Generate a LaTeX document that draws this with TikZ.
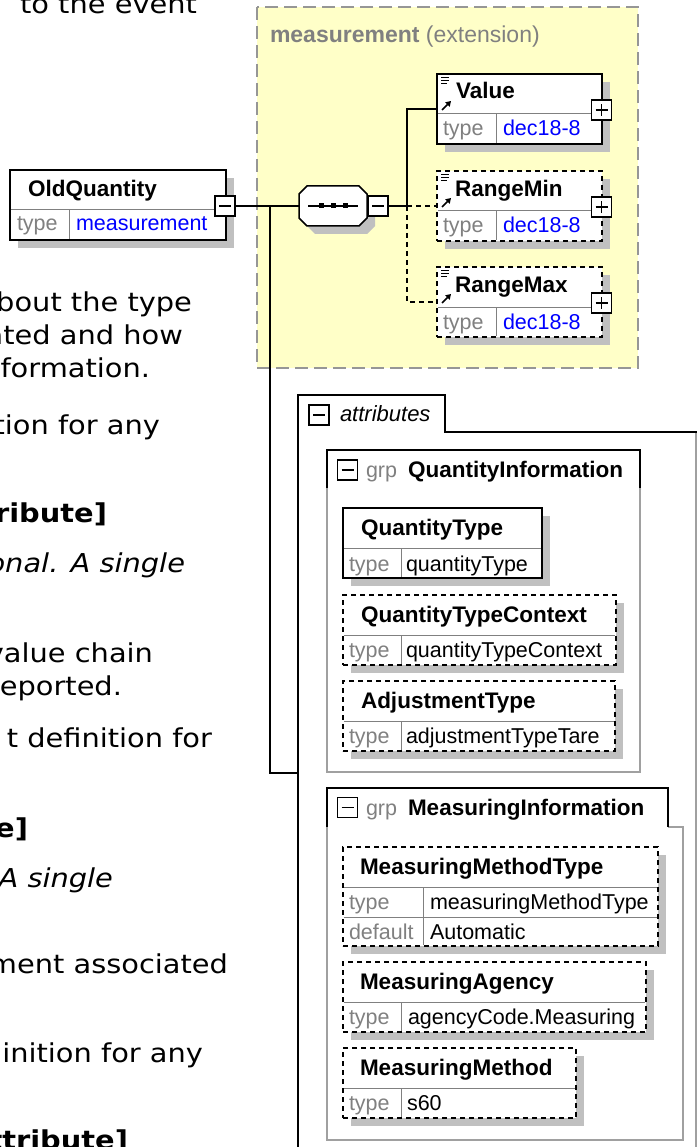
\documentclass[tikz,border=0pt]{standalone}
\usepackage{fontspec}
\setmainfont{Liberation Sans}
\newfontfamily\vfont[FakeStretch=1.11]{DejaVu Sans}
\usetikzlibrary{arrows.meta}
\definecolor{yel}{HTML}{FFFFC8}
\definecolor{shd}{HTML}{C0C0C0}
\definecolor{gtxt}{HTML}{808080}
\definecolor{grpline}{HTML}{A0A0A0}
\definecolor{extline}{HTML}{969696}
\definecolor{blu}{HTML}{0000FF}
\newcommand{\shbox}[6]{%
  \fill[shd] ({#2+8},{#3+8}) rectangle ({#2+#4+8},{#3+#5+8});
  \node[#6, minimum width=#4pt, minimum height=#5pt] (#1) at (#2,#3) {};}
\newcommand{\rowdiv}[5]{%
  \draw[divl] ({#1+0.8},{#2+40}) -- ({#1+#3-0.8},{#2+40});
  \draw[divl] (#5,{#2+40}) -- (#5,{#2+#4-0.8});}
\newcommand{\pmbox}[4]{%
  \node[pmb] (#1) at (#2,#3) {};
  \draw[line width=1.3pt] ([xshift=-6pt]#1.center) -- ([xshift=6pt]#1.center);
  \ifnum#4=1 \draw[line width=1.3pt] ([yshift=-6pt]#1.center) -- ([yshift=6pt]#1.center);\fi}
\newcommand{\eicon}[2]{%
  \draw[line width=1pt] ({#1+4},{#2+3.5}) -- ({#1+12},{#2+3.5})
    ({#1+4},{#2+6.5}) -- ({#1+12},{#2+6.5}) ({#1+4},{#2+9.5}) -- ({#1+10},{#2+9.5});
  \draw[line width=1.6pt,-{Triangle[length=5pt,width=6pt]}] ({#1+5},{#2+36}) -- ({#1+14},{#2+27});}
\begin{document}
\begin{tikzpicture}[x=1pt,y=-1pt,
  every node/.style={inner sep=0pt, outer sep=0pt},
  prose/.style={anchor=base east, font=\vfont\fontsize{26}{31}\selectfont},
  prosebf/.style={anchor=base east, font=\vfont\bfseries\fontsize{26}{31}\selectfont},
  proseit/.style={anchor=base east, font=\vfont\itshape\fontsize{26}{31}\selectfont},
  ttl/.style={anchor=base west, font=\bfseries\fontsize{22.5}{26}\selectfont},
  lbl/.style={anchor=base west, font=\fontsize{21.5}{25}\selectfont, text=gtxt},
  val/.style={anchor=base west, font=\fontsize{21.5}{25}\selectfont},
  ebox/.style={draw=black, fill=white, line width=1.5pt, anchor=north west},
  dbox/.style={ebox, dash pattern=on 5pt off 4pt},
  divl/.style={draw=gtxt, line width=1pt},
  conn/.style={draw=black, line width=1.6pt},
  dconn/.style={conn, dash pattern=on 5pt off 4pt},
  pmb/.style={draw=black, fill=white, line width=1.3pt, minimum width=20pt, minimum height=20pt},
  grpl/.style={draw=grpline, line width=1.5pt},
  blk/.style={draw=black, line width=1.5pt}]
\useasboundingbox (0,0) rectangle (697,1147);
\fill[white] (0,0) rectangle (697,1147);

% ---- extension region
\fill[yel] (257,7) rectangle (638,368);
\draw[extline, line width=1.8pt, dash pattern=on 13pt off 6pt] (257,7) rectangle (638,368);
\node[anchor=base west, text=gtxt, font=\fontsize{23}{27}\selectfont] (extlbl) at (270,43) {\textbf{measurement} (extension)};

% ---- attributes and groups
\draw[grpl] (696,432) -- (696,1160);
\draw[blk] (298,1160) -- (298,395) -- (445,395) -- (445,432) -- (696.75,432);
\node[anchor=base west, font=\itshape\fontsize{22}{26}\selectfont] (attrlbl) at (340,421) {attributes};
\pmbox{attrminus}{319}{415}{0}

\fill[white] (327,450) rectangle (640,772);
\draw[grpl] (327,488) -- (327,772) -- (640,772) -- (640,488);
\draw[blk] (327,488) -- (327,450) -- (640,450) -- (640,488);
\pmbox{qiminus}{347.5}{470}{0}
\node[lbl] (qigrp) at (366,477) {grp};
\node[ttl] (qititle) at (408,477) {QuantityInformation};

\draw[grpl] (327,827) -- (327,1140) -- (683,1140) -- (683,827) -- (668,827);
\draw[blk] (327,827) -- (327,788) -- (668,788) -- (668,827);
\pmbox{miminus}{347.5}{807.5}{0}
\node[lbl] (migrp) at (366,815) {grp};
\node[ttl] (mititle) at (408,815) {MeasuringInformation};

% ---- OldQuantity
\shbox{oq}{10}{170}{216}{70}{ebox}
\rowdiv{10}{170}{216}{70}{69}
\node[ttl] (oqt) at (28,197) {OldQuantity};
\node[lbl] (oqk) at (17,231) {type};
\node[val, text=blu] (oqv) at (76,231) {measurement};
\pmbox{oqminus}{225}{206}{0}

% ---- sequence compositor
\node[minimum width=68pt, minimum height=40pt] (seq) at (333,206) {};
\begin{scope}[shift={(8,8)}]
\fill[shd] (307,186) -- (359,186) -- (367,194) -- (367,218) -- (359,226) -- (307,226) -- (299,218) -- (299,194) -- cycle;
\end{scope}
\filldraw[fill=white, draw=black, line width=1.5pt] (307,186) -- (359,186) -- (367,194) -- (367,218) -- (359,226) -- (307,226) -- (299,218) -- (299,194) -- cycle;
\draw[line width=1.2pt] (308,206) -- (358,206);
\fill (318.5,203.5) rectangle (323.5,208.5);
\fill (330.5,203.5) rectangle (335.5,208.5);
\fill (342.5,203.5) rectangle (347.5,208.5);
\pmbox{seqminus}{378}{206}{0}

% ---- Value / RangeMin / RangeMax
\shbox{value}{437}{74}{165}{70}{ebox}
\rowdiv{437}{74}{165}{70}{496}
\eicon{437}{74}
\node[ttl] (valuet) at (456,99) {Value};
\node[lbl] (valuek) at (443,136) {type};
\node[val, text=blu] (valuev) at (503,136) {dec18-8};
\pmbox{valueplus}{601.5}{110}{1}

\shbox{rangemin}{437}{171}{165}{70}{dbox}
\rowdiv{437}{171}{165}{70}{496}
\eicon{437}{171}
\node[ttl] (rmint) at (455,197) {RangeMin};
\node[lbl] (rmink) at (443,233) {type};
\node[val, text=blu] (rminv) at (503,233) {dec18-8};
\pmbox{rminplus}{601.5}{207}{1}

\shbox{rangemax}{437}{267}{165}{70}{dbox}
\rowdiv{437}{267}{165}{70}{496}
\eicon{437}{267}
\node[ttl] (rmaxt) at (455,293) {RangeMax};
\node[lbl] (rmaxk) at (443,329) {type};
\node[val, text=blu] (rmaxv) at (503,329) {dec18-8};
\pmbox{rmaxplus}{601.5}{303}{1}

% ---- connectors
\coordinate (j1) at (270,206);
\coordinate (bus) at (407,206);
\coordinate (attin) at (298,773);
\draw[conn] (oqminus.east) -- (seq.west);
\draw[conn] (j1) |- (attin);
\draw[conn] (seqminus.east) -- (bus) |- (value.west);
\draw[dconn] (bus) -- (rangemin.west);
\draw[dconn] (bus) |- (rangemax.west);

% ---- QuantityInformation members
\shbox{qt}{343}{508}{199}{70}{ebox}
\rowdiv{343}{508}{199}{70}{401}
\node[ttl] (qtt) at (361,535) {QuantityType};
\node[lbl] (qtk) at (349,571) {type};
\node[val] (qtv) at (406,571) {quantityType};

\shbox{qtc}{343}{595}{273}{70}{dbox}
\rowdiv{343}{595}{273}{70}{401}
\node[ttl] (qtct) at (361,622) {QuantityTypeContext};
\node[lbl] (qtck) at (349,657) {type};
\node[val] (qtcv) at (406,657) {quantityTypeContext};

\shbox{adj}{343}{681}{272}{70}{dbox}
\rowdiv{343}{681}{272}{70}{401}
\node[ttl] (adjt) at (361,708) {AdjustmentType};
\node[lbl] (adjk) at (349,743) {type};
\node[val] (adjv) at (406,743) {adjustmentTypeTare};

% ---- MeasuringInformation members
\shbox{mmt}{343}{847}{315}{99}{dbox}
\rowdiv{343}{847}{315}{99}{423}
\draw[divl] (343.8,917) -- (657.2,917);
\node[ttl] (mmtt) at (360,874) {MeasuringMethodType};
\node[lbl] (mmtk) at (349,909) {type};
\node[val] (mmtv) at (430,909) {measuringMethodType};
\node[lbl] (mmtdk) at (349,939) {default};
\node[val] (mmtdv) at (430,939) {Automatic};

\shbox{ma}{343}{962}{303}{70}{dbox}
\rowdiv{343}{962}{303}{70}{401}
\node[ttl] (mat) at (360,989) {MeasuringAgency};
\node[lbl] (mak) at (349,1024) {type};
\node[val] (mav) at (408,1024) {agencyCode.Measuring};

\shbox{mm}{343}{1048}{233}{70}{dbox}
\rowdiv{343}{1048}{233}{70}{401}
\node[ttl] (mmt2) at (360,1075) {MeasuringMethod};
\node[lbl] (mmk) at (349,1110) {type};
\node[val] (mmv) at (407,1110) {s60};

% ---- prose on the left
\node[prose] (p1) at (197,14) {to the event};
\node[prose] (p2) at (192,311) {bout the type};
\node[prose] (p3) at (183,344) {ated and how};
\node[prose] (p4) at (150,377) {formation.};
\node[prose] (p5) at (160,434) {tion for any};
\node[prosebf] (p6) at (107,522) {ribute]};
\node[proseit] (p7) at (185,572) {onal. A single};
\node[prose] (p8) at (153,662) {value chain};
\node[prose] (p9) at (122,695) {eported.};
\node[prose] (p10) at (212,747) {t definition for};
\node[prosebf] (p11) at (28,837) {e]};
\node[proseit] (p12) at (113,887) {A single};
\node[prose] (p13) at (228,973) {ment associated};
\node[prose] (p14) at (203,1062) {inition for any};
\node[prosebf] (p15) at (128,1149) {ttribute]};
\end{tikzpicture}
\end{document}
